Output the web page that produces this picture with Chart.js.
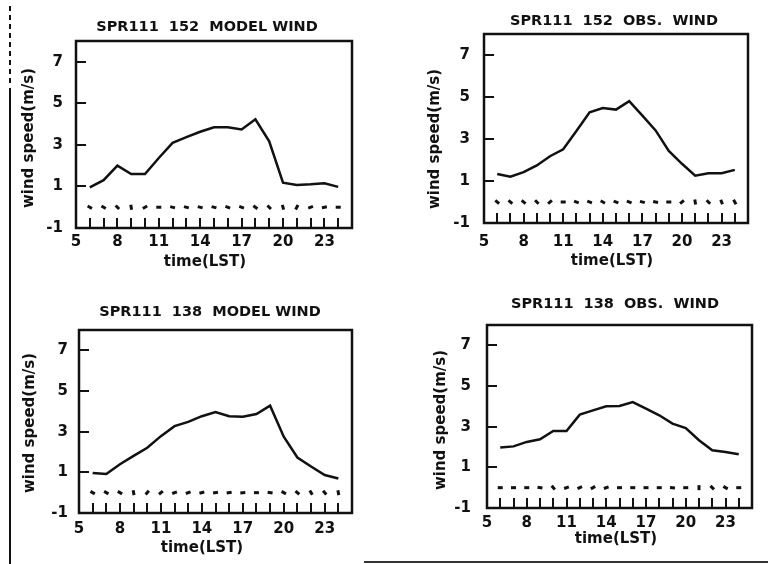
<!DOCTYPE html>
<html>
<head>
<meta charset="utf-8">
<script src="https://cdn.jsdelivr.net/npm/chart.js@4.4.0/dist/chart.umd.min.js"></script>
<style>
  body { margin: 0; background: #fff; }
  #page { position: relative; width: 768px; height: 564px; overflow: hidden; background: #fff; }
  canvas { position: absolute; }
  .scan { position: absolute; background: #111; }
</style>
</head>
<body>
<div id="page">
  <canvas id="p1" width="370" height="282" style="left:0;top:0"></canvas>
  <canvas id="p2" width="384" height="282" style="left:384px;top:0"></canvas>
  <canvas id="p3" width="370" height="282" style="left:0;top:282px"></canvas>
  <canvas id="p4" width="384" height="282" style="left:384px;top:282px"></canvas>
  <div class="scan" style="left:9px;top:6px;width:2px;height:78px;background:repeating-linear-gradient(#111 0 5px, transparent 5px 9px)"></div>
  <div class="scan" style="left:9px;top:88px;width:2px;height:476px"></div>
  <div class="scan" style="left:364px;top:561px;width:404px;height:2px;background:#333"></div>
</div>
<script>
// hours of the day that carry a value
const hours = [6, 7, 8, 9, 10, 11, 12, 13, 14, 15, 16, 17, 18, 19, 20, 21, 22, 23, 24];
const tickHours = [5, 6, 7, 8, 9, 10, 11, 12, 13, 14, 15, 16, 17, 18, 19, 20, 21, 22, 23, 24, 25];
const xLabels = [5, 8, 11, 14, 17, 20, 23];
const yTicks = [-1, 1, 3, 5, 7];
const markLevel = 0;

// wind speed (m/s)
const model152 = [0.96, 1.3, 2.0, 1.6, 1.6, 2.37, 3.1, 3.37, 3.63, 3.85, 3.85, 3.74, 4.23, 3.17, 1.18, 1.07, 1.1, 1.15, 0.98];
const obs152 = [1.33, 1.2, 1.42, 1.74, 2.18, 2.51, 3.38, 4.27, 4.47, 4.4, 4.8, 4.11, 3.41, 2.43, 1.82, 1.25, 1.37, 1.37, 1.53];
const model138 = [0.97, 0.92, 1.4, 1.81, 2.21, 2.78, 3.27, 3.48, 3.76, 3.97, 3.76, 3.73, 3.87, 4.28, 2.75, 1.73, 1.29, 0.87, 0.7];
const obs138 = [1.97, 2.03, 2.25, 2.38, 2.79, 2.79, 3.59, 3.8, 4.0, 4.02, 4.21, 3.89, 3.56, 3.15, 2.93, 2.33, 1.84, 1.75, 1.64];

// wind direction marks, tilt in degrees (positive leans like "\")
const dir152m = [30, 30, 45, 80, -30, 0, 15, 15, 15, 15, 20, 20, 35, 45, 75, -60, -20, -10, 0];
const dir152o = [40, 40, 40, 45, -40, 0, 20, 20, 30, 20, 20, 15, 10, 0, -40, 80, 45, 70, 60];
const dir138m = [30, 30, 30, 80, -50, -40, -20, -20, -15, -10, -10, -5, 0, 10, 30, 40, 60, 50, 80];
const dir138o = [0, 0, 0, 10, 50, -20, -25, -30, -20, 0, 0, 0, 0, 5, 0, 90, 45, 30, 0];

const ink = '#111';
Chart.defaults.font.family = '"DejaVu Sans", sans-serif';
Chart.defaults.font.weight = 'bold';
Chart.defaults.color = ink;

// box round the plot area plus the panel texts
const frame = {
  id: 'frame',
  afterDraw(chart, args, opts) {
    const { ctx, chartArea: a } = chart;
    ctx.save();
    ctx.strokeStyle = ink;
    ctx.lineWidth = 2.5;
    ctx.strokeRect(a.left, a.top, a.right - a.left, a.bottom - a.top);
    ctx.fillStyle = ink;
    ctx.textAlign = 'center';
    ctx.textBaseline = 'middle';
    ctx.font = 'bold 14.5px "DejaVu Sans"';
    ctx.fillText(opts.title, opts.titleX, opts.titleY);
    ctx.font = 'bold 15px "DejaVu Sans"';
    ctx.fillText('time(LST)', opts.xTitleX, opts.xTitleY);
    ctx.translate(opts.yTitleX, opts.yTitleY);
    ctx.rotate(-Math.PI / 2);
    ctx.fillText('wind speed(m/s)', 0, 0);
    ctx.restore();
  },
};

function makePanel(id, speed, dirs, p) {
  new Chart(document.getElementById(id), {
    type: 'scatter',
    data: {
      datasets: [
        {
          data: hours.map((h, i) => ({ x: h, y: speed[i] })),
          showLine: true,
          borderColor: ink,
          borderWidth: 2.5,
          pointRadius: 0,
          tension: 0,
        },
        {
          data: hours.map((h) => ({ x: h, y: markLevel })),
          showLine: false,
          pointStyle: 'line',
          pointRadius: 2.5,
          pointRotation: dirs,
          pointBorderColor: ink,
          pointBorderWidth: 3,
        },
      ],
    },
    options: {
      responsive: false,
      animation: false,
      events: [],
      layout: { padding: { top: p.top, right: p.right, left: 0, bottom: 0 } },
      plugins: { legend: { display: false }, tooltip: { enabled: false }, frame: p },
      scales: {
        x: {
          type: 'linear',
          min: 5,
          max: 25,
          afterBuildTicks: (axis) => { axis.ticks = tickHours.map((v) => ({ value: v })); },
          afterFit: (axis) => { axis.height = p.xh; },
          border: { display: false },
          grid: { drawOnChartArea: false, tickLength: -10, lineWidth: 2, color: ink },
          ticks: {
            autoSkip: false,
            maxRotation: 0,
            padding: p.xPad,
            font: { size: 15, weight: 'bold' },
            callback: (v) => (xLabels.includes(v) ? String(v) : ''),
          },
        },
        y: {
          min: -1,
          max: 8,
          afterBuildTicks: (axis) => { axis.ticks = yTicks.map((v) => ({ value: v })); },
          afterFit: (axis) => { axis.width = p.yw; },
          border: { display: false },
          grid: { drawOnChartArea: false, tickLength: -10, lineWidth: 2, color: ink },
          ticks: { padding: p.yPad, font: { size: 15, weight: 'bold' } },
        },
      },
    },
    plugins: [frame],
  });
}

makePanel('p1', model152, dir152m, {
  title: 'SPR111  152  MODEL WIND', titleX: 207, titleY: 27,
  xTitleX: 205, xTitleY: 262, yTitleX: 29, yTitleY: 138,
  top: 41, right: 18, yw: 76, xh: 54, xPad: 15, yPad: 23,
});
makePanel('p2', obs152, dir152o, {
  title: 'SPR111  152  OBS.  WIND', titleX: 230, titleY: 21,
  xTitleX: 228, xTitleY: 261, yTitleX: 51, yTitleY: 139,
  top: 34, right: 9, yw: 100, xh: 59, xPad: 20, yPad: 24,
});
makePanel('p3', model138, dir138m, {
  title: 'SPR111  138  MODEL WIND', titleX: 210, titleY: 30,
  xTitleX: 202, xTitleY: 266, yTitleX: 30, yTitleY: 141,
  top: 48, right: 18, yw: 79, xh: 51, xPad: 17, yPad: 21,
});
makePanel('p4', obs138, dir138o, {
  title: 'SPR111  138  OBS.  WIND', titleX: 231, titleY: 22,
  xTitleX: 232, xTitleY: 257, yTitleX: 57, yTitleY: 138,
  top: 43, right: 7, yw: 103, xh: 56, xPad: 16, yPad: 26,
});
</script>
</body>
</html>
